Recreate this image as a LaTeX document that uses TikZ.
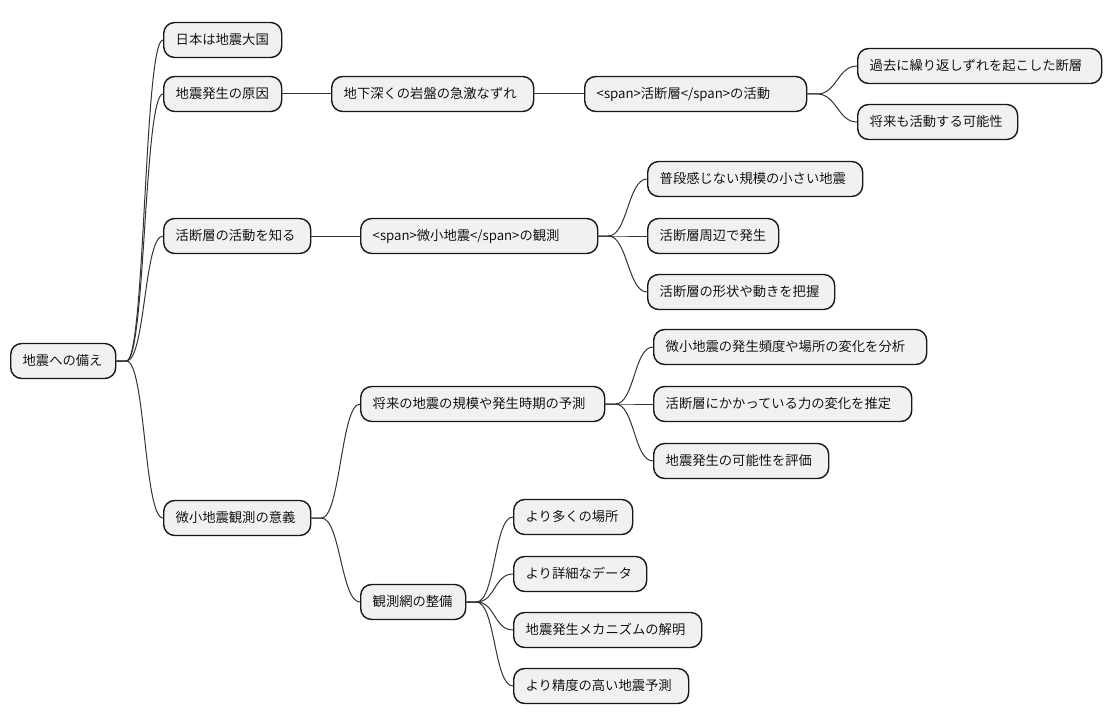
\documentclass[tikz,border=0pt]{standalone}
\usepackage{fontspec}
\newfontfamily\jp{Noto Sans CJK JP DemiLight}
\definecolor{boxfill}{HTML}{F1F1F1}
\definecolor{boxline}{HTML}{181818}
\definecolor{linkline}{HTML}{333333}
\tikzset{
  mmbox/.style={draw=boxline, line width=1.4pt, fill=boxfill, rounded corners=11pt,
    minimum height=35pt, anchor=west, inner xsep=12pt, inner ysep=0pt, align=left,
    text height=11.5pt, text depth=1.8pt,
    font=\jp\fontsize{13.3}{15}\selectfont},
  link/.style={draw=linkline, line width=1pt},
}
\newcommand{\curvelink}[2]{\draw[link] (#1.east) -- ++(10,0) .. controls +(19,0) and +(-19,0) .. (#2.west);}
\begin{document}
\begin{tikzpicture}[x=1pt,y=-1pt]
\useasboundingbox (0,0) rectangle (1112,725);
% root
\node[mmbox, text width=81pt] (root) at (10,361) {地震への備え};
% level 1
\node[mmbox, text width=94pt] (n1) at (163,40) {日本は地震大国};
\node[mmbox, text width=94pt] (n2) at (163,94) {地震発生の原因};
\node[mmbox, text width=123pt] (n3) at (163,236) {活断層の活動を知る};
\node[mmbox, text width=123pt] (n4) at (163,518) {微小地震観測の意義};
% level 2
\node[mmbox, text width=178pt] (n2a) at (331,94) {地下深くの岩盤の急激なずれ};
\node[mmbox, text width=198pt] (n2b) at (584,94) {<span>活断層</span>の活動};
\node[mmbox, text width=220pt] (n2b1) at (857,66) {過去に繰り返しずれを起こした断層};
\node[mmbox, text width=136pt] (n2b2) at (857,122) {将来も活動する可能性};
\node[mmbox, text width=213pt] (n3a) at (360,236) {<span>微小地震</span>の観測};
\node[mmbox, text width=191pt] (n3a1) at (647,179) {普段感じない規模の小さい地震};
\node[mmbox, text width=107pt] (n3a2) at (647,236) {活断層周辺で発生};
\node[mmbox, text width=163pt] (n3a3) at (647,292) {活断層の形状や動きを把握};
\node[mmbox, text width=220pt] (n4a) at (360,404) {将来の地震の規模や発生時期の予測};
\node[mmbox, text width=249pt] (n4a1) at (653,347) {微小地震の発生頻度や場所の変化を分析};
\node[mmbox, text width=234pt] (n4a2) at (653,404) {活断層にかかっている力の変化を推定};
\node[mmbox, text width=151pt] (n4a3) at (653,461) {地震発生の可能性を評価};
\node[mmbox, text width=81pt] (n4b) at (360,602) {観測網の整備};
\node[mmbox, text width=95pt] (n4b1) at (513,517) {より多くの場所};
\node[mmbox, text width=109pt] (n4b2) at (513,574) {より詳細なデータ};
\node[mmbox, text width=164pt] (n4b3) at (513,630) {地震発生メカニズムの解明};
\node[mmbox, text width=151pt] (n4b4) at (513,686) {より精度の高い地震予測};
% links
\curvelink{root}{n1}
\curvelink{root}{n2}
\curvelink{root}{n3}
\curvelink{root}{n4}
\draw[link] (n2.east) -- (n2a.west);
\draw[link] (n2a.east) -- (n2b.west);
\curvelink{n2b}{n2b1}
\curvelink{n2b}{n2b2}
\draw[link] (n3.east) -- (n3a.west);
\curvelink{n3a}{n3a1}
\curvelink{n3a}{n3a2}
\curvelink{n3a}{n3a3}
\curvelink{n4}{n4a}
\curvelink{n4}{n4b}
\curvelink{n4a}{n4a1}
\curvelink{n4a}{n4a2}
\curvelink{n4a}{n4a3}
\curvelink{n4b}{n4b1}
\curvelink{n4b}{n4b2}
\curvelink{n4b}{n4b3}
\curvelink{n4b}{n4b4}
\end{tikzpicture}
\end{document}
